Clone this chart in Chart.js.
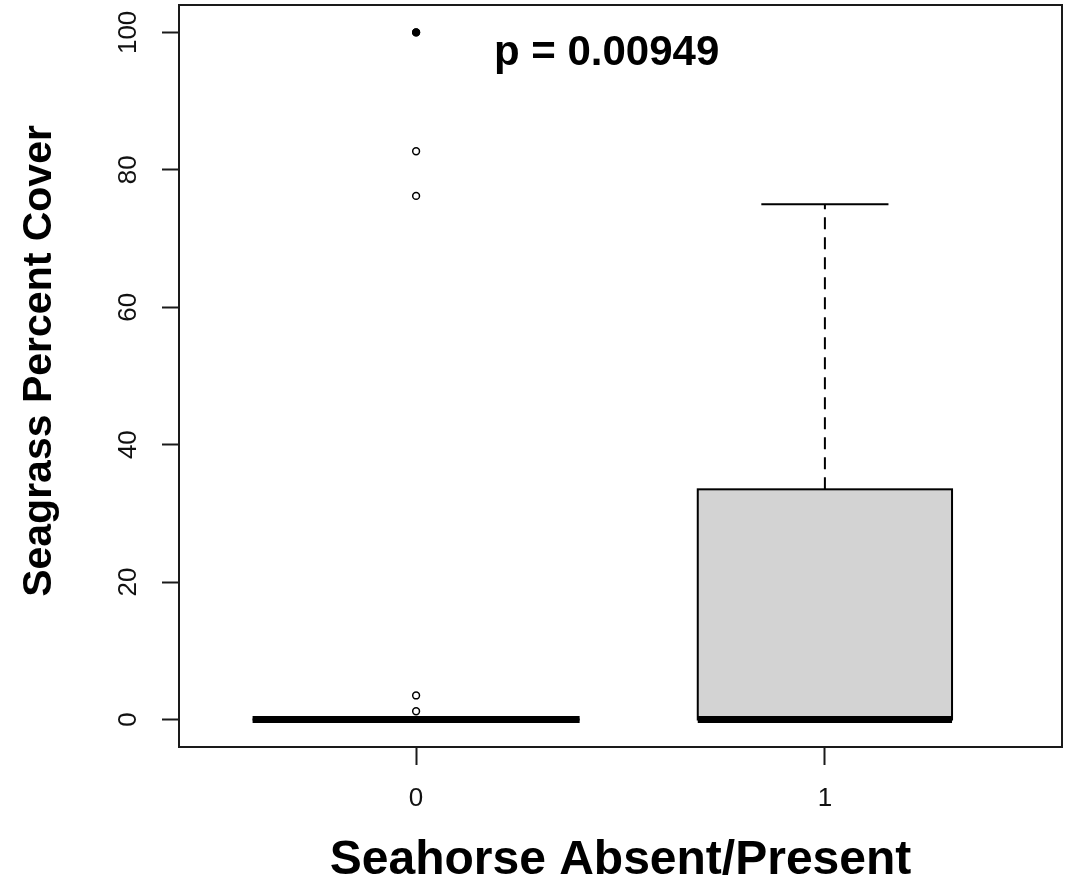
<!DOCTYPE html>
<html>
<head>
<meta charset="utf-8">
<script src="https://cdn.jsdelivr.net/npm/chart.js@4.4.1/dist/chart.umd.min.js"></script>
<style>
  html, body { margin: 0; padding: 0; background: #ffffff; }
  #wrap { width: 1076px; height: 887px; }
</style>
</head>
<body>
<div id="wrap"><canvas id="c" width="1076" height="887"></canvas></div>
<script>
// ---------------- DATA ----------------
const groupLabels = ['0', '1'];          // Seahorse absent / present
const groupX = [0, 1];
const whiskerLow = [0, 0];
const q1 = [0, 0];
const median = [0, 0];
const q3 = [0, 33.5];
const whiskerHigh = [0, 75];
const outlierGroup = [0, 0, 0, 0, 0, 0];
const outlierValues = [100, 100, 82.7, 76.2, 3.5, 1.2];
const yTickValues = [0, 20, 40, 60, 80, 100];
const annotationText = 'p = 0.00949';
const yTitleText = 'Seagrass Percent Cover';
const xTitleText = 'Seahorse Absent/Present';

// ---------------- STYLE / LAYOUT ----------------
const FONT = '"Liberation Sans", Arial, Helvetica, sans-serif';
const INK = '#1a1a1a';
const BOX_HALF = [0.40, 0.311];   // R varwidth boxes (data units)
const STAPLE = 0.5;               // staple width relative to box
const ANNOT_POS = { x: 0.466, y: 97 };
const YTITLE = { x: 40, dy: -15, size: 41 };

const outlierPoints = outlierValues.map((v, i) => ({ x: groupX[outlierGroup[i]], y: v }));
const dupCount = outlierValues.map(v => outlierValues.filter(w => w === v).length);

const boxPlugin = {
  id: 'rbox',
  beforeDatasetsDraw(chart) {
    const { ctx, scales: { x, y } } = chart;
    ctx.save();
    groupX.forEach((gx, i) => {
      const cx = x.getPixelForValue(gx);
      const half = x.getPixelForValue(gx + BOX_HALF[i]) - cx;
      const pq1 = y.getPixelForValue(q1[i]);
      const pq3 = y.getPixelForValue(q3[i]);
      const pmed = y.getPixelForValue(median[i]);
      const plo = y.getPixelForValue(whiskerLow[i]);
      const phi = y.getPixelForValue(whiskerHigh[i]);
      ctx.strokeStyle = '#000';
      ctx.lineWidth = 2;
      ctx.setLineDash([12, 8]);
      ctx.beginPath();
      ctx.moveTo(cx, pq3); ctx.lineTo(cx, phi);
      ctx.moveTo(cx, pq1); ctx.lineTo(cx, plo);
      ctx.stroke();
      ctx.setLineDash([]);
      ctx.beginPath();
      ctx.moveTo(cx - half * STAPLE, phi); ctx.lineTo(cx + half * STAPLE, phi);
      ctx.moveTo(cx - half * STAPLE, plo); ctx.lineTo(cx + half * STAPLE, plo);
      ctx.stroke();
      ctx.fillStyle = '#d3d3d3';
      ctx.fillRect(cx - half, pq3, 2 * half, pq1 - pq3);
      ctx.strokeRect(cx - half, pq3, 2 * half, pq1 - pq3);
      ctx.lineWidth = 7;
      ctx.lineCap = 'butt';
      ctx.beginPath();
      ctx.moveTo(cx - half, pmed); ctx.lineTo(cx + half, pmed);
      ctx.stroke();
    });
    ctx.restore();
  },
  afterDraw(chart) {
    const { ctx, chartArea: a, scales: { x, y } } = chart;
    ctx.save();
    ctx.strokeStyle = INK;
    ctx.lineWidth = 2;
    ctx.beginPath();
    ctx.moveTo(a.left, a.top); ctx.lineTo(a.right, a.top); ctx.lineTo(a.right, a.bottom);
    ctx.stroke();
    ctx.fillStyle = '#000';
    ctx.font = 'bold 42px ' + FONT;
    ctx.textAlign = 'center';
    ctx.textBaseline = 'middle';
    ctx.fillText(annotationText, x.getPixelForValue(ANNOT_POS.x), y.getPixelForValue(ANNOT_POS.y));
    // y-axis title
    ctx.translate(YTITLE.x, (a.top + a.bottom) / 2 + YTITLE.dy);
    ctx.rotate(-Math.PI / 2);
    ctx.font = 'bold ' + YTITLE.size + 'px ' + FONT;
    ctx.fillText(yTitleText, 0, 0);
    ctx.restore();
  }
};

new Chart(document.getElementById('c'), {
  type: 'scatter',
  data: {
    datasets: [{
      label: 'outliers',
      data: outlierPoints,
      pointRadius: 3.4,
      pointHoverRadius: 3.4,
      pointBorderWidth: 1.5,
      pointBorderColor: '#000',
      pointBackgroundColor: outlierValues.map((v, i) => dupCount[i] > 1 ? '#000' : '#fff')
    }]
  },
  options: {
    responsive: false,
    animation: false,
    events: [],
    layout: { padding: { left: 0, top: 3, right: 14, bottom: 0 } },
    plugins: { legend: { display: false }, tooltip: { enabled: false } },
    scales: {
      x: {
        type: 'linear',
        min: -0.58,
        max: 1.58,
        afterBuildTicks: s => { s.ticks = groupX.map(v => ({ value: v })); },
        afterFit: s => { s.height = 140; s.paddingLeft = 0; s.paddingRight = 0; },
        ticks: {
          callback: (v) => groupLabels[groupX.indexOf(v)],
          font: { family: FONT, size: 26 },
          color: '#111',
          padding: 18,
          maxRotation: 0, minRotation: 0
        },
        grid: { drawOnChartArea: false, drawTicks: true, tickLength: 18, tickWidth: 2, tickColor: INK, color: INK },
        border: { display: true, color: INK, width: 2 },
        title: {
          display: true,
          text: xTitleText,
          font: { family: FONT, size: 48, weight: 'bold', lineHeight: 1.1 },
          color: '#000',
          padding: { top: 0, bottom: 0 }
        }
      },
      y: {
        type: 'linear',
        min: -4,
        max: 104,
        afterBuildTicks: s => { s.ticks = yTickValues.map(v => ({ value: v })); },
        afterFit: s => { s.width = 179; s.paddingTop = 0; s.paddingBottom = 0; },
        ticks: {
          font: { family: FONT, size: 26 },
          color: '#111',
          padding: 11,
          minRotation: 90, maxRotation: 90,
          crossAlign: 'center'
        },
        grid: { drawOnChartArea: false, drawTicks: true, tickLength: 17, tickWidth: 2, tickColor: INK, color: INK },
        border: { display: true, color: INK, width: 2 },
        title: { display: false }
      }
    }
  },
  plugins: [boxPlugin]
});
</script>
</body>
</html>
